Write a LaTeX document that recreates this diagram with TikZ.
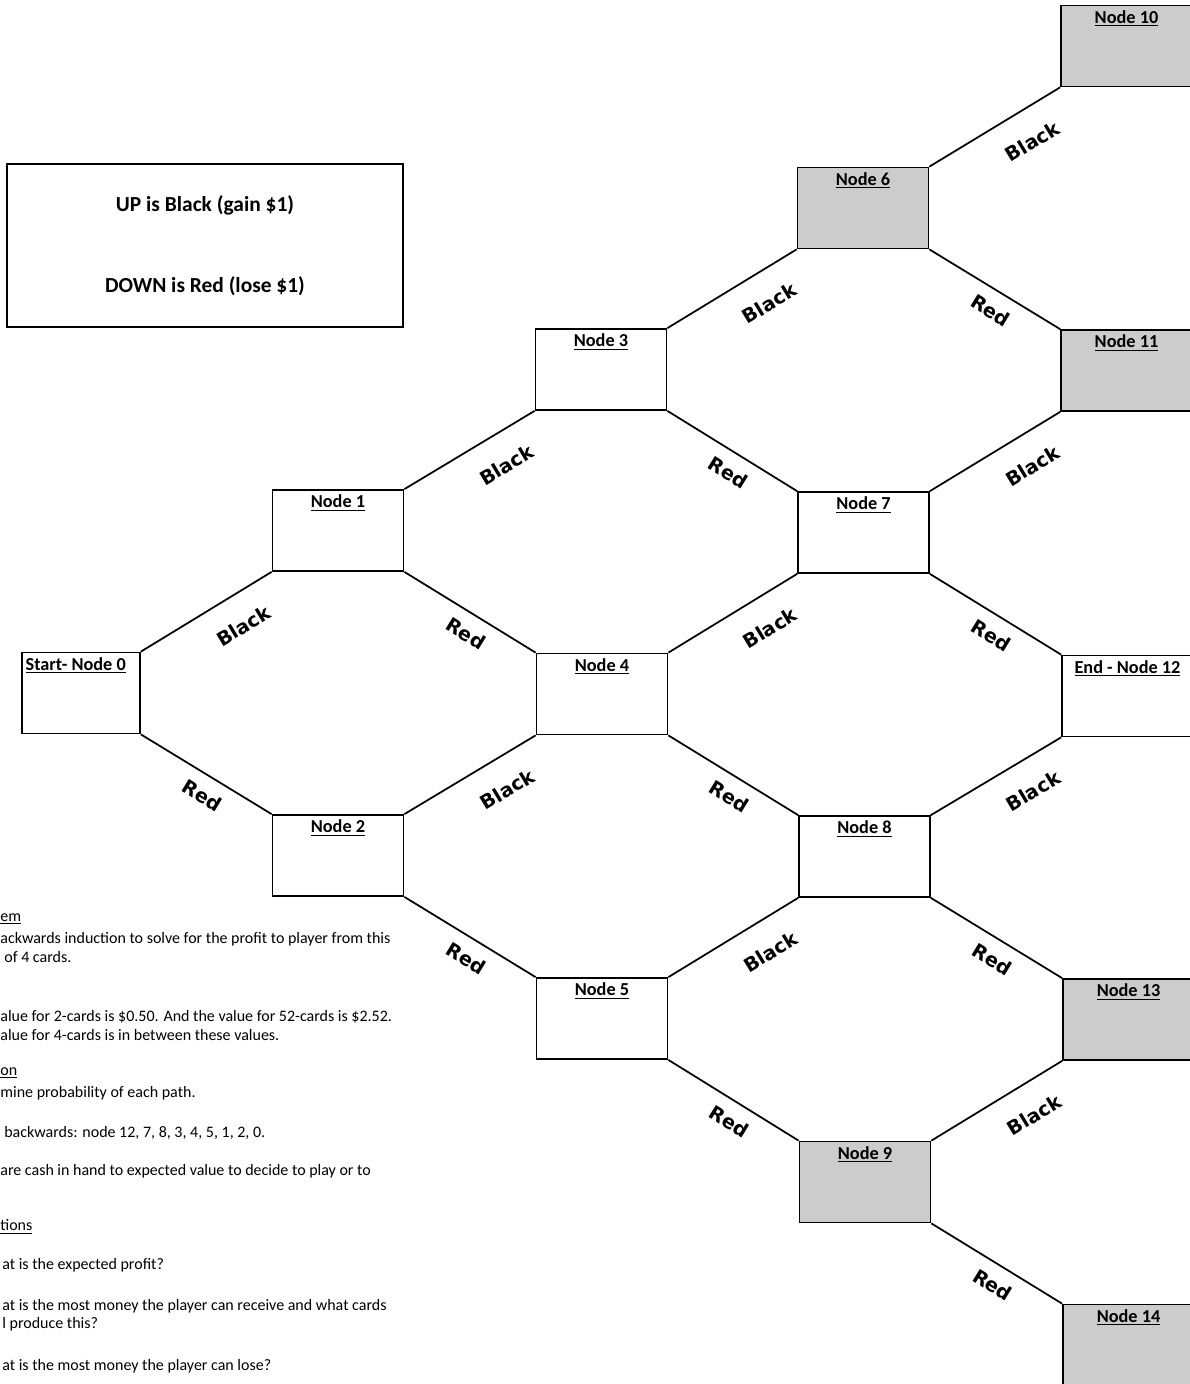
\documentclass[tikz,border=0pt]{standalone}
\usepackage{fontspec}
\setmainfont{Carlito}
\newfontfamily\edgefont{DejaVu Sans}
\usetikzlibrary{positioning}

\begin{document}
\begin{tikzpicture}[
    x=0.02cm, y=-0.02cm,
    % Define common styles
        box/.style={draw, rectangle, line width=1pt, minimum width=2.62cm, minimum height=1.62cm, inner sep=0pt},
        shaded/.style={box, fill=gray!40},
        title/.style={anchor=north, inner sep=3pt, font=\fontsize{10.4}{12}\selectfont\bfseries},
        link/.style={line width=1pt},
        blacklbl/.style={pos=0.66, below=10pt, sloped, font=\edgefont\fontsize{11}{13}\selectfont\bfseries},
        redlbl/.style={pos=0.55, below=3.5pt, sloped, font=\edgefont\fontsize{11}{13}\selectfont\bfseries},
        notes/.style={anchor=west, inner sep=0pt, font=\fontsize{9.1}{11}\selectfont}
    ]

        \useasboundingbox (0,0) rectangle (1190,1384);
        \clip (0,0) rectangle (1190,1384);

        % Legend
        \node[draw, line width=0.8pt, minimum width=7.92cm, minimum height=3.26cm, align=center,
              font=\fontsize{12.2}{14}\selectfont\bfseries] (legend) at (205,245.5)
              {UP is Black (gain \$1)\\[32pt]DOWN is Red (lose \$1)};

        % Tree nodes
        \node[box, minimum width=2.36cm, label={[title, xshift=-3pt]north:\underline{Start- Node 0}}] (n0) at (81,693) {};
        \node[box, label={[title]north:\underline{Node 1}}] (n1) at (338,530.5) {};
        \node[box, label={[title]north:\underline{Node 2}}] (n2) at (338,855.5) {};
        \node[box, label={[title]north:\underline{Node 3}}] (n3) at (601,369.5) {};
        \node[box, label={[title]north:\underline{Node 4}}] (n4) at (602,694) {};
        \node[box, label={[title]north:\underline{Node 5}}] (n5) at (602,1018.5) {};
        \node[shaded, label={[title]north:\underline{Node 6}}] (n6) at (863,208) {};
        \node[box, label={[title]north:\underline{Node 7}}] (n7) at (863.5,532.5) {};
        \node[box, label={[title]north:\underline{Node 8}}] (n8) at (864.5,856.5) {};
        \node[shaded, label={[title]north:\underline{Node 9}}] (n9) at (865,1182) {};
        \node[shaded, label={[title]north:\underline{Node 10}}] (n10) at (1126.5,46) {};
        \node[shaded, label={[title]north:\underline{Node 11}}] (n11) at (1126.5,370.5) {};
        \node[box, label={[title]north:\underline{End - Node 12}}] (n12) at (1127.5,696) {};
        \node[shaded, label={[title]north:\underline{Node 13}}] (n13) at (1128.5,1019.5) {};
        \node[shaded, label={[title]north:\underline{Node 14}}] (n14) at (1128.5,1345) {};

        % UP branches
        \foreach \a/\b in {0/1, 1/3, 2/4, 3/6, 4/7, 5/8, 6/10, 7/11, 8/12, 9/13}
            \draw[link] (n\a.north east) -- node[blacklbl] {Black} (n\b.south west);

        % DOWN branches
        \foreach \a/\b in {0/2, 1/4, 2/5, 3/7, 4/8, 5/9, 6/11, 7/12, 8/13, 9/14}
            \draw[link] (n\a.south east) -- node[redlbl] {Red} (n\b.north west);

        % Notes (cut off at the left edge)
        \node[notes] (t1) at (0,919) {\underline{em}};
        \node[notes] (t2) at (0,939) {ackwards induction to solve for the profit to player from this};
        \node[notes] (t3) at (4,957) {of 4 cards.};
        \node[notes] (t4) at (0,1017) {alue for 2-cards is \$0.50. And the value for 52-cards is \$2.52.};
        \node[notes] (t5) at (0,1035) {alue for 4-cards is in between these values.};
        \node[notes] (t6) at (0,1073) {\underline{on}};
        \node[notes] (t7) at (0,1093) {mine probability of each path.};
        \node[notes] (t8) at (4,1133) {backwards: node 12, 7, 8, 3, 4, 5, 1, 2, 0.};
        \node[notes] (t9) at (0,1171) {are cash in hand to expected value to decide to play or to};
        \node[notes] (t10) at (0,1227) {\underline{tions}};
        \node[notes] (t11) at (2,1265) {at is the expected profit?};
        \node[notes] (t12) at (2,1306) {at is the most money the player can receive and what cards};
        \node[notes] (t13) at (2,1324) {l produce this?};
        \node[notes] (t14) at (2,1366) {at is the most money the player can lose?};

    \end{tikzpicture}
\end{document}
